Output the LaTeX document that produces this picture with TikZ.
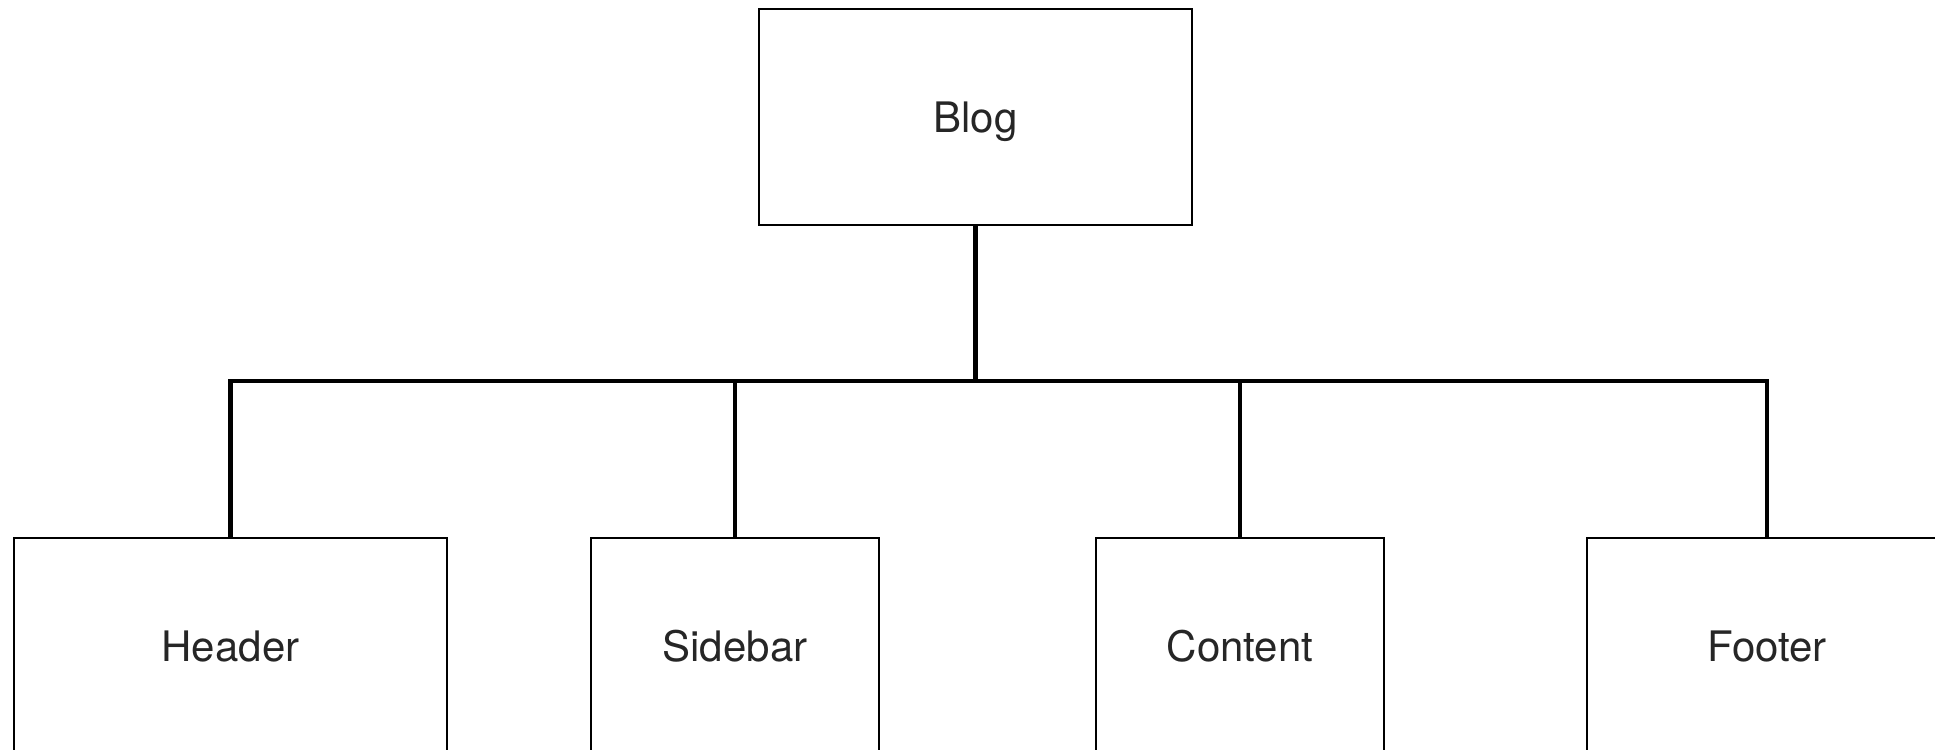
\documentclass[tikz,border=0pt]{standalone}
\usepackage{fontspec}
\setmainfont{TeX Gyre Heros}
\begin{document}
\begin{tikzpicture}[x=0.5pt,y=-0.5pt,
  part/.style={draw=black, line width=0.9pt, fill=white, inner sep=0pt,
    text depth=0pt, font=\fontsize{21}{25}\selectfont, text=black!85},
  link/.style={draw=black, line width=2.3pt, line join=miter}]
  \clip (0,0) rectangle (1935,750);
  \useasboundingbox (0,0) rectangle (1935,750);
  \fill[white] (0,0) rectangle (1935,750);

  % page parts
  \node[part, minimum width=216.5pt, minimum height=108pt] (blog) at (975.5,117) {Blog};
  \node[part, minimum width=216.5pt, minimum height=108pt] (header) at (230.5,646) {Header};
  \node[part, minimum width=144pt, minimum height=108pt] (sidebar) at (735,646) {Sidebar};
  \node[part, minimum width=144pt, minimum height=108pt] (content) at (1240,646) {Content};
  \node[part, minimum width=180pt, minimum height=108pt] (footer) at (1767,646) {Footer};

  % tree connectors through a common bus
  \coordinate (bus) at (975.5,381);
  \draw[link] (blog.south) -- (bus);
  \draw[link] (header.north) |- (bus);
  \draw[link] (sidebar.north) |- (bus);
  \draw[link] (content.north) |- (bus);
  \draw[link] (footer.north) |- (bus);
\end{tikzpicture}
\end{document}
